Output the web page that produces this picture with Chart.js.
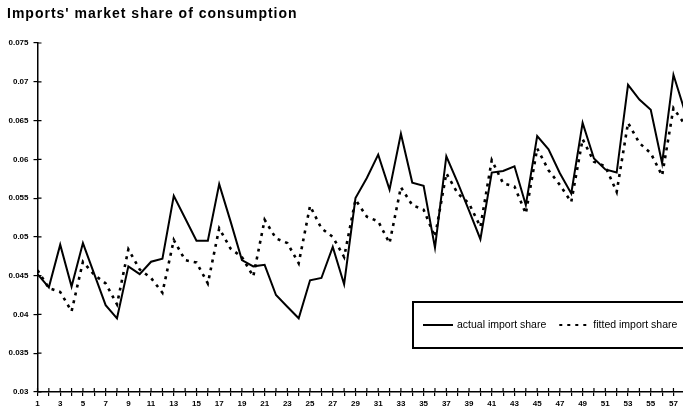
<!DOCTYPE html>
<html>
<head>
<meta charset="utf-8">
<title>Imports' market share of consumption</title>
<script src="https://cdn.jsdelivr.net/npm/chart.js@4.4.1/dist/chart.umd.min.js"></script>
<style>
  html, body { margin: 0; padding: 0; background: #fff; overflow: hidden; }
  #wrap { width: 683px; height: 414px; }
</style>
</head>
<body>
<div id="wrap"><canvas id="importsChart" width="683" height="414"></canvas></div>
<script>
// periods (the last one runs off the right edge of the original)
const periods = [1, 2, 3, 4, 5, 6, 7, 8, 9, 10, 11, 12, 13, 14, 15, 16, 17, 18, 19, 20,
  21, 22, 23, 24, 25, 26, 27, 28, 29, 30, 31, 32, 33, 34, 35, 36, 37, 38, 39, 40,
  41, 42, 43, 44, 45, 46, 47, 48, 49, 50, 51, 52, 53, 54, 55, 56, 57, 58];

const actualShare = [0.0452, 0.0435, 0.0490, 0.0436, 0.0492, 0.0452, 0.0412, 0.0395, 0.0462, 0.0452,
  0.0468, 0.0472, 0.0553, 0.0524, 0.0495, 0.0495, 0.0568, 0.0520, 0.0470, 0.0462,
  0.0464, 0.0425, 0.0410, 0.0395, 0.0444, 0.0447, 0.0487, 0.0439, 0.0550, 0.0576,
  0.0606, 0.0561, 0.0633, 0.0570, 0.0566, 0.0486, 0.0604, 0.0570, 0.0534, 0.0497,
  0.0583, 0.0585, 0.0591, 0.0541, 0.0630, 0.0613, 0.0582, 0.0556, 0.0647, 0.0601,
  0.0587, 0.0583, 0.0696, 0.0677, 0.0664, 0.0595, 0.0709, 0.0662];

const fittedShare = [0.0457, 0.0434, 0.0429, 0.0404, 0.0468, 0.0451, 0.0440, 0.0413, 0.0484, 0.0458,
  0.0447, 0.0428, 0.0496, 0.0470, 0.0467, 0.0440, 0.0511, 0.0485, 0.0474, 0.0449,
  0.0522, 0.0498, 0.0492, 0.0466, 0.0540, 0.0511, 0.0500, 0.0474, 0.0548, 0.0526,
  0.0520, 0.0492, 0.0564, 0.0541, 0.0535, 0.0500, 0.0582, 0.0556, 0.0543, 0.0513,
  0.0599, 0.0569, 0.0565, 0.0530, 0.0614, 0.0586, 0.0567, 0.0545, 0.0626, 0.0597,
  0.0591, 0.0558, 0.0647, 0.0621, 0.0608, 0.0579, 0.0666, 0.0645];

const xTickValues = periods.filter(p => p <= 57);
const yTickValues = [0.03, 0.035, 0.04, 0.045, 0.05, 0.055, 0.06, 0.065, 0.07, 0.075];

Chart.defaults.font.family = "'Liberation Sans', Arial, sans-serif";
Chart.defaults.color = '#000';

// spaced-out title: letter spacing is on while the title layer draws,
// tick labels are pushed to a later layer (z: 1) so they don't get it
const titleSpacing = {
  id: 'titleSpacing',
  beforeDraw(chart) { chart.ctx.letterSpacing = '1px'; },
  beforeDatasetsDraw(chart) { chart.ctx.letterSpacing = '0px'; },
};

// the little "+" marks: Chart.js draws the outer half, this draws the inner half
const crossTicks = {
  id: 'crossTicks',
  afterDraw(chart) {
    const ctx = chart.ctx;
    const xs = chart.scales.x, ys = chart.scales.y;
    const len = 4;
    ctx.save();
    ctx.strokeStyle = '#000';
    ctx.lineWidth = 1.2;
    ctx.beginPath();
    xs.ticks.forEach(t => {
      const px = xs.getPixelForValue(t.value);
      ctx.moveTo(px, xs.top - len);
      ctx.lineTo(px, xs.top);
    });
    ys.ticks.forEach(t => {
      const py = ys.getPixelForValue(t.value);
      ctx.moveTo(ys.right, py);
      ctx.lineTo(ys.right + len, py);
    });
    ctx.stroke();
    ctx.restore();
  }
};

// boxed legend sitting inside the plot, bottom right
const boxedLegend = {
  id: 'boxedLegend',
  afterDatasetsDraw(chart, args, opts) {
    const ctx = chart.ctx;
    ctx.save();
    ctx.letterSpacing = '0px';
    ctx.fillStyle = '#fff';
    ctx.fillRect(opts.x, opts.y, opts.w, opts.h);
    ctx.lineWidth = 2;
    ctx.strokeStyle = '#000';
    ctx.strokeRect(opts.x, opts.y, opts.w, opts.h);
    ctx.font = opts.font;
    ctx.fillStyle = '#000';
    ctx.textBaseline = 'middle';
    const cy = opts.y + opts.h / 2;
    let cx = opts.x + 10;
    chart.data.datasets.forEach(ds => {
      ctx.beginPath();
      ctx.setLineDash(ds.borderDash || []);
      ctx.lineWidth = 2;
      ctx.moveTo(cx, cy);
      ctx.lineTo(cx + opts.sample, cy);
      ctx.stroke();
      ctx.setLineDash([]);
      cx += opts.sample + 4;
      ctx.fillText(ds.label, cx, cy);
      cx += ctx.measureText(ds.label).width + opts.gap;
    });
    ctx.restore();
  }
};

const ctx = document.getElementById('importsChart').getContext('2d');
new Chart(ctx, {
  type: 'line',
  data: {
    datasets: [
      {
        label: 'actual import share',
        data: periods.map((p, i) => ({ x: p, y: actualShare[i] })),
        borderColor: '#000',
        borderWidth: 2,
        pointRadius: 0,
        tension: 0,
      },
      {
        label: 'fitted import share',
        data: periods.map((p, i) => ({ x: p, y: fittedShare[i] })),
        borderColor: '#000',
        borderWidth: 2.6,
        borderDash: [3, 5],
        pointRadius: 0,
        tension: 0,
      },
    ],
  },
  options: {
    responsive: false,
    animation: false,
    layout: { padding: { left: 7, right: 0, top: 0, bottom: 0 } },
    plugins: {
      legend: { display: false },
      tooltip: { enabled: false },
      title: {
        display: true,
        text: "Imports' market share of consumption",
        align: 'start',
        color: '#000',
        font: { size: 14, weight: 'bold' },
        padding: { top: 6, bottom: 20.2 },
      },
      boxedLegend: { x: 413, y: 302, w: 285, h: 46, sample: 30, gap: 13, font: "10.5px 'Liberation Sans', Arial, sans-serif" },
    },
    scales: {
      x: {
        type: 'linear',
        min: 1,
        max: 57.84,
        afterBuildTicks: (scale) => { scale.ticks = xTickValues.map(v => ({ value: v })); },
        afterFit: (scale) => { scale.height = 22; },
        grid: { drawOnChartArea: false, tickLength: 4, color: '#000', lineWidth: 1.2 },
        border: { display: true, color: '#000', width: 1.5 },
        ticks: {
          z: 1,
          autoSkip: false,
          maxRotation: 0,
          padding: 3,
          color: '#000',
          font: { size: 8, weight: 'bold' },
          callback: (v) => (v % 2 === 1 ? String(v) : ''),
        },
      },
      y: {
        min: 0.03,
        max: 0.075,
        afterBuildTicks: (scale) => { scale.ticks = yTickValues.map(v => ({ value: v })); },
        afterFit: (scale) => { scale.width = 30.5; },
        grid: { drawOnChartArea: false, tickLength: 4, color: '#000', lineWidth: 1.2 },
        border: { display: true, color: '#000', width: 1.5 },
        ticks: {
          z: 1,
          padding: 5,
          color: '#000',
          font: { size: 8, weight: 'bold' },
          callback: (v) => String(v),
        },
      },
    },
  },
  plugins: [titleSpacing, crossTicks, boxedLegend],
});
</script>
</body>
</html>
